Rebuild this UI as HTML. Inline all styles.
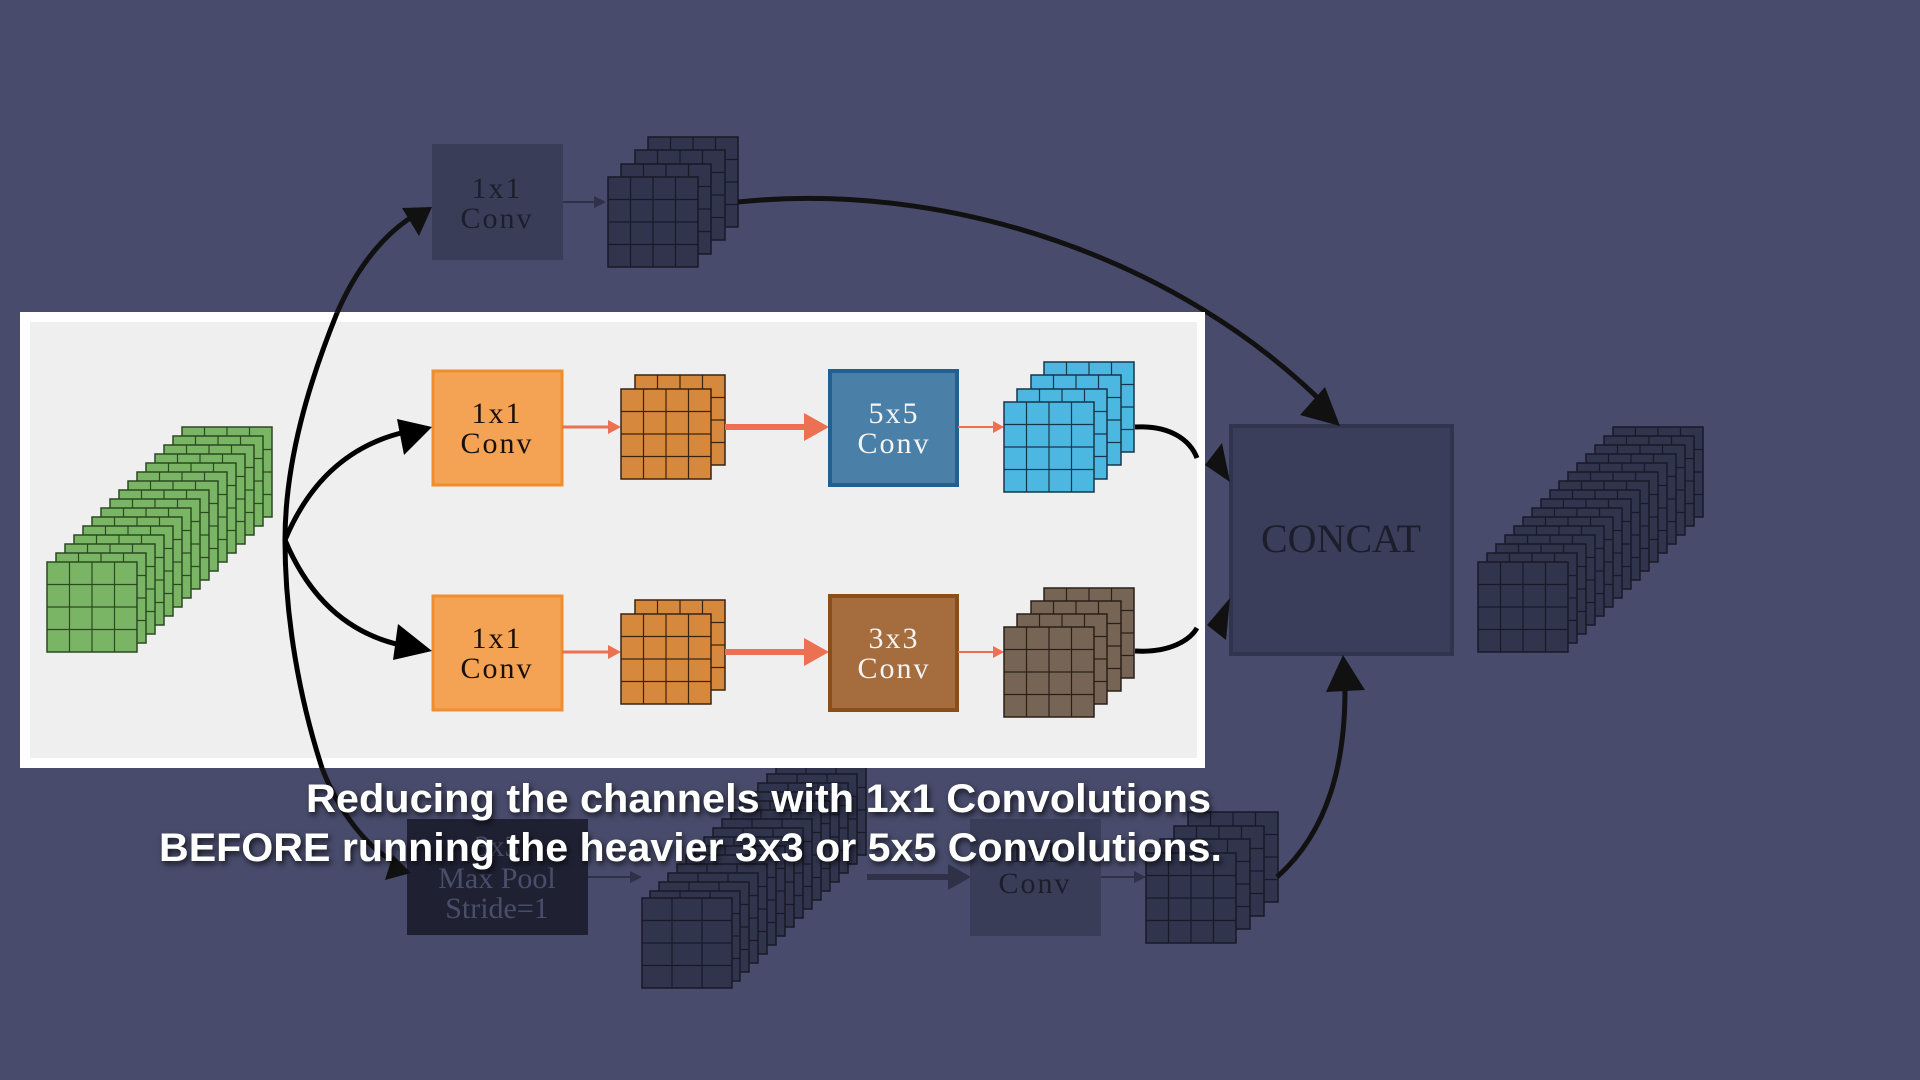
<!DOCTYPE html>
<html><head><meta charset="utf-8"><style>
html,body{margin:0;padding:0;background:#484b6b;width:1920px;height:1080px;overflow:hidden}
svg{display:block}
</style></head><body>
<svg width="1920" height="1080" viewBox="0 0 1920 1080" xmlns="http://www.w3.org/2000/svg">
<defs>
<g id="gGreen"><rect x="0" y="0" width="90" height="90" fill="#7ab565" stroke="#2a4a20" stroke-width="1.5"/><path d="M22.5 0V90M45 0V90M67.5 0V90M0 22.5H90M0 45H90M0 67.5H90" stroke="#2a4a20" stroke-width="1.2"/></g>
<g id="gDark"><rect x="0" y="0" width="90" height="90" fill="#30344c" stroke="#181a28" stroke-width="1.5"/><path d="M22.5 0V90M45 0V90M67.5 0V90M0 22.5H90M0 45H90M0 67.5H90" stroke="#181a28" stroke-width="1.2"/></g>
<g id="gDark3"><rect x="0" y="0" width="90" height="90" fill="#30344c" stroke="#181a28" stroke-width="1.5"/><path d="M30 0V90M60 0V90M0 22.5H90M0 45H90M0 67.5H90" stroke="#181a28" stroke-width="1.2"/></g>
<g id="gOr"><rect x="0" y="0" width="90" height="90" fill="#d6883c" stroke="#3a2410" stroke-width="1.5"/><path d="M22.5 0V90M45 0V90M67.5 0V90M0 22.5H90M0 45H90M0 67.5H90" stroke="#3a2410" stroke-width="1.2"/></g>
<g id="gBlue"><rect x="0" y="0" width="90" height="90" fill="#4cb8e2" stroke="#17364a" stroke-width="1.5"/><path d="M22.5 0V90M45 0V90M67.5 0V90M0 22.5H90M0 45H90M0 67.5H90" stroke="#17364a" stroke-width="1.2"/></g>
<g id="gBrown"><rect x="0" y="0" width="90" height="90" fill="#766555" stroke="#2a2018" stroke-width="1.5"/><path d="M22.5 0V90M45 0V90M67.5 0V90M0 22.5H90M0 45H90M0 67.5H90" stroke="#2a2018" stroke-width="1.2"/></g>
</defs>

<!-- top dark branch -->
<rect x="432" y="144" width="131" height="116" fill="#393d58"/>
<text x="497" y="198" font-family="Liberation Serif, serif" font-size="30" fill="#1c1e2c" text-anchor="middle" letter-spacing="2">1x1</text>
<text x="497" y="228" font-family="Liberation Serif, serif" font-size="30" fill="#1c1e2c" text-anchor="middle" letter-spacing="2">Conv</text>
<path d="M563 202H596" stroke="#2e3148" stroke-width="2"/><path d="M606 202L594 196V208Z" fill="#2e3148"/>
<use href="#gDark" x="648" y="137"/><use href="#gDark" x="635" y="150"/><use href="#gDark" x="621" y="164"/><use href="#gDark" x="608" y="177"/>

<!-- concat -->
<rect x="1231" y="426" width="221" height="228" fill="#3a3e5a" stroke="#30344c" stroke-width="4"/>
<text x="1341" y="552" font-family="Liberation Serif, serif" font-size="40" fill="#1c1e2c" text-anchor="middle">CONCAT</text>

<!-- right dark stack 16 layers -->
<g>
<use href="#gDark" x="1613" y="427"/><use href="#gDark" x="1604" y="436"/><use href="#gDark" x="1595" y="445"/><use href="#gDark" x="1586" y="454"/>
<use href="#gDark" x="1577" y="463"/><use href="#gDark" x="1568" y="472"/><use href="#gDark" x="1559" y="481"/><use href="#gDark" x="1550" y="490"/>
<use href="#gDark" x="1541" y="499"/><use href="#gDark" x="1532" y="508"/><use href="#gDark" x="1523" y="517"/><use href="#gDark" x="1514" y="526"/>
<use href="#gDark" x="1505" y="535"/><use href="#gDark" x="1496" y="544"/><use href="#gDark" x="1487" y="553"/><use href="#gDark" x="1478" y="562"/>
</g>

<!-- bottom dark branch -->
<rect x="407" y="819" width="181" height="116" fill="#1f2133"/>
<text x="497" y="856" font-family="Liberation Serif, serif" font-size="30" fill="#4a4e6a" text-anchor="middle">3x3</text>
<text x="497" y="888" font-family="Liberation Serif, serif" font-size="30" fill="#4a4e6a" text-anchor="middle">Max Pool</text>
<text x="497" y="918" font-family="Liberation Serif, serif" font-size="30" fill="#4a4e6a" text-anchor="middle">Stride=1</text>
<path d="M588 877H630" stroke="#2e3148" stroke-width="2"/><path d="M642 877L630 871V883Z" fill="#2e3148"/>
<g>
<use href="#gDark3" x="776" y="765"/><use href="#gDark3" x="767" y="774"/><use href="#gDark3" x="758" y="783"/><use href="#gDark3" x="749" y="792"/>
<use href="#gDark3" x="740" y="801"/><use href="#gDark3" x="731" y="810"/><use href="#gDark3" x="722" y="819"/><use href="#gDark3" x="713" y="828"/>
<use href="#gDark3" x="704" y="837"/><use href="#gDark3" x="695" y="846"/><use href="#gDark3" x="686" y="855"/><use href="#gDark3" x="677" y="864"/>
<use href="#gDark3" x="668" y="873"/><use href="#gDark3" x="659" y="882"/><use href="#gDark3" x="650" y="891"/><use href="#gDark3" x="642" y="898"/>
</g>
<path d="M867 877H950" stroke="#2e3148" stroke-width="6"/><path d="M971 877L948 864V890Z" fill="#2e3148"/>
<rect x="970" y="819" width="131" height="117" fill="#393d58"/>
<text x="1035" y="862" font-family="Liberation Serif, serif" font-size="30" fill="#1c1e2c" text-anchor="middle" letter-spacing="2">1x1</text>
<text x="1035" y="893" font-family="Liberation Serif, serif" font-size="30" fill="#1c1e2c" text-anchor="middle" letter-spacing="2">Conv</text>
<path d="M1101 877H1135" stroke="#2e3148" stroke-width="2"/><path d="M1146 877L1134 871V883Z" fill="#2e3148"/>
<use href="#gDark" x="1188" y="812"/><use href="#gDark" x="1174" y="826"/><use href="#gDark" x="1160" y="839"/><use href="#gDark" x="1146" y="853"/>

<!-- outer arrows -->
<path d="M738 202C950 180 1180 260 1325 405" fill="none" stroke="#111" stroke-width="5"/>
<path d="M1340 426L1300 415L1325 387Z" fill="#111"/>
<path d="M1277 877C1330 830 1345 760 1345 690" fill="none" stroke="#111" stroke-width="5"/>
<path d="M1343 655L1326 692L1365 690Z" fill="#111"/>
<path d="M1230 482L1205 465L1222 443Z" fill="#111"/>
<path d="M1230 598L1207 625L1226 640Z" fill="#111"/>

<!-- white panel -->
<rect x="20" y="312" width="1185" height="456" fill="#ffffff"/>
<rect x="30" y="322" width="1167" height="436" fill="#efefef"/>

<!-- green stack -->
<g>
<use href="#gGreen" x="182" y="427"/><use href="#gGreen" x="173" y="436"/><use href="#gGreen" x="164" y="445"/><use href="#gGreen" x="155" y="454"/>
<use href="#gGreen" x="146" y="463"/><use href="#gGreen" x="137" y="472"/><use href="#gGreen" x="128" y="481"/><use href="#gGreen" x="119" y="490"/>
<use href="#gGreen" x="110" y="499"/><use href="#gGreen" x="101" y="508"/><use href="#gGreen" x="92" y="517"/><use href="#gGreen" x="83" y="526"/>
<use href="#gGreen" x="74" y="535"/><use href="#gGreen" x="65" y="544"/><use href="#gGreen" x="56" y="553"/><use href="#gGreen" x="47" y="562"/>
</g>

<!-- top row -->
<rect x="433" y="371" width="129" height="114" fill="#f4a253" stroke="#f08d2e" stroke-width="3"/>
<text x="497" y="423" font-family="Liberation Serif, serif" font-size="30" fill="#1a1008" text-anchor="middle" letter-spacing="2">1x1</text>
<text x="497" y="453" font-family="Liberation Serif, serif" font-size="30" fill="#1a1008" text-anchor="middle" letter-spacing="2">Conv</text>
<path d="M562 427H610" stroke="#ec7052" stroke-width="3"/><path d="M621 427L608 420V434Z" fill="#ec7052"/>
<use href="#gOr" x="635" y="375"/><use href="#gOr" x="621" y="389"/>
<path d="M725 427H806" stroke="#ec7052" stroke-width="6"/><path d="M829 427L804 413V441Z" fill="#ec7052"/>
<rect x="830" y="371" width="127" height="114" fill="#4a80a8" stroke="#216090" stroke-width="4"/>
<text x="894" y="423" font-family="Liberation Serif, serif" font-size="30" fill="#f4f4f4" text-anchor="middle" letter-spacing="2">5x5</text>
<text x="894" y="453" font-family="Liberation Serif, serif" font-size="30" fill="#f4f4f4" text-anchor="middle" letter-spacing="2">Conv</text>
<path d="M958 427H994" stroke="#ec7052" stroke-width="2"/><path d="M1004 427L993 421V433Z" fill="#ec7052"/>
<use href="#gBlue" x="1044" y="362"/><use href="#gBlue" x="1031" y="375"/><use href="#gBlue" x="1017" y="389"/><use href="#gBlue" x="1004" y="402"/>

<!-- bottom row -->
<rect x="433" y="596" width="129" height="114" fill="#f4a253" stroke="#f08d2e" stroke-width="3"/>
<text x="497" y="648" font-family="Liberation Serif, serif" font-size="30" fill="#1a1008" text-anchor="middle" letter-spacing="2">1x1</text>
<text x="497" y="678" font-family="Liberation Serif, serif" font-size="30" fill="#1a1008" text-anchor="middle" letter-spacing="2">Conv</text>
<path d="M562 652H610" stroke="#ec7052" stroke-width="3"/><path d="M621 652L608 645V659Z" fill="#ec7052"/>
<use href="#gOr" x="635" y="600"/><use href="#gOr" x="621" y="614"/>
<path d="M725 652H806" stroke="#ec7052" stroke-width="6"/><path d="M829 652L804 638V666Z" fill="#ec7052"/>
<rect x="830" y="596" width="127" height="114" fill="#a56c3e" stroke="#8a4e1a" stroke-width="4"/>
<text x="894" y="648" font-family="Liberation Serif, serif" font-size="30" fill="#f4f4f4" text-anchor="middle" letter-spacing="2">3x3</text>
<text x="894" y="678" font-family="Liberation Serif, serif" font-size="30" fill="#f4f4f4" text-anchor="middle" letter-spacing="2">Conv</text>
<path d="M958 652H994" stroke="#ec7052" stroke-width="2"/><path d="M1004 652L993 646V658Z" fill="#ec7052"/>
<use href="#gBrown" x="1044" y="588"/><use href="#gBrown" x="1031" y="601"/><use href="#gBrown" x="1017" y="614"/><use href="#gBrown" x="1004" y="627"/>

<!-- curves out of stacks -->
<path d="M1135 427C1170 425 1190 440 1197 458" fill="none" stroke="#000" stroke-width="5"/>
<path d="M1135 651C1170 653 1190 640 1197 628" fill="none" stroke="#000" stroke-width="5"/>

<!-- big curve and inner branches -->
<path d="M337 313C310 380 285 460 285 540C285 620 300 700 322 768" fill="none" stroke="#000" stroke-width="5"/>
<path d="M337 313C360 260 390 230 415 215" fill="none" stroke="#111" stroke-width="5"/>
<path d="M322 768C340 815 370 850 395 862" fill="none" stroke="#111" stroke-width="5"/>
<path d="M432 207L402 208L419 236Z" fill="#111"/>
<path d="M411 873L385 880L393 855Z" fill="#111"/>
<path d="M285 540C310 480 350 445 405 432" fill="none" stroke="#000" stroke-width="5"/>
<path d="M432 427L397 419L404 455Z" fill="#000"/>
<path d="M285 540C310 600 350 635 405 646" fill="none" stroke="#000" stroke-width="5"/>
<path d="M432 651L398 624L393 660Z" fill="#000"/>

<!-- subtitles -->
<g font-family="Liberation Sans, sans-serif" font-weight="bold" font-size="40" fill="#ffffff" style="filter:drop-shadow(2px 3px 3px rgba(0,0,0,0.7))">
<text x="306" y="812" textLength="905" lengthAdjust="spacingAndGlyphs">Reducing the channels with 1x1 Convolutions</text>
<text x="159" y="861" textLength="1063" lengthAdjust="spacingAndGlyphs">BEFORE running the heavier 3x3 or 5x5 Convolutions.</text>
</g>
</svg>
</body></html>
